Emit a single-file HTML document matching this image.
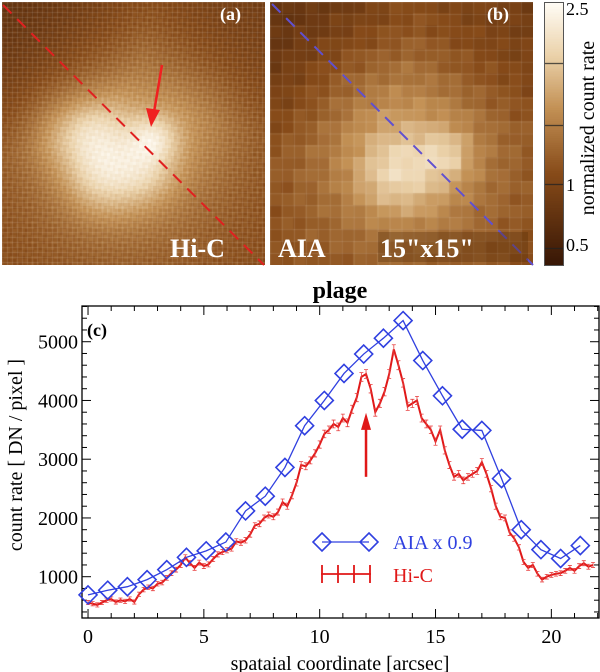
<!DOCTYPE html>
<html><head><meta charset="utf-8">
<style>
html,body{margin:0;padding:0;background:#fff;}
body{width:600px;height:672px;position:relative;overflow:hidden;font-family:"Liberation Serif","DejaVu Serif","Times New Roman",serif;}
canvas{position:absolute;}
svg text{font-family:"Liberation Serif","DejaVu Serif","Times New Roman",serif;}
</style></head><body>
<canvas id="imga" width="263" height="263" style="left:2px;top:2px"></canvas>
<canvas id="imgb" width="263" height="263" style="left:270px;top:2px"></canvas>
<canvas id="cbar" width="18" height="262" style="left:545px;top:3px;outline:1px solid #555"></canvas>
<svg width="600" height="672" style="position:absolute;left:0;top:0" id="svg">
<line x1="3" y1="5" x2="264" y2="265" stroke="#e02020" stroke-width="2" stroke-dasharray="12,8"/>
<line x1="272" y1="4" x2="533" y2="265" stroke="#6050d0" stroke-width="2" stroke-dasharray="12,8"/>
<g>
<line x1="162" y1="65" x2="154" y2="112" stroke="#f02020" stroke-width="2.5"/>
<polygon points="151,127 146,108 160,110" fill="#f02020"/>
</g>
<text x="220" y="20" fill="#fff" font-weight="bold" font-size="18">(a)</text>
<text x="487" y="20" fill="#fff" font-weight="bold" font-size="18">(b)</text>
<text x="170" y="257" fill="#fff" font-weight="bold" font-size="26">Hi-C</text>
<text x="278" y="257" fill="#fff" font-weight="bold" font-size="26">AIA</text>
<rect x="378" y="232" width="150" height="30" fill="rgba(90,45,10,0.35)"/>
<text x="380" y="257" fill="#fff" font-weight="bold" font-size="26">15"x15"</text>
<g font-size="18" fill="#000">
<text x="566" y="15">2.5</text>
<text x="566" y="191">1</text>
<text x="566" y="251">0.5</text>
<text transform="translate(594,128) rotate(-90)" text-anchor="middle" font-size="20">normalized count rate</text>
</g>
<text x="340" y="298" text-anchor="middle" font-weight="bold" font-size="24">plage</text>
<g id="chart"></g>
</svg>
<script>
// ---- chart data ----
const aiaX=[0,0.85,1.7,2.55,3.4,4.25,5.1,5.95,6.8,7.65,8.5,9.35,10.2,11.05,11.9,12.75,13.6,14.45,15.3,16.15,17.0,17.85,18.7,19.55,20.4,21.25];
const aiaY=[690,770,830,950,1120,1330,1440,1590,2120,2370,2860,3570,4000,4460,4790,5060,5360,4680,4080,3510,3490,2670,1800,1460,1310,1530];
const hicX=[0,0.2,0.4,0.6,0.8,1,1.2,1.4,1.6,1.8,2,2.2,2.4,2.6,2.8,3,3.2,3.4,3.6,3.8,4,4.2,4.4,4.6,4.8,5,5.2,5.4,5.6,5.8,6,6.2,6.4,6.6,6.8,7,7.2,7.4,7.6,7.8,8,8.2,8.4,8.6,8.8,9,9.2,9.4,9.6,9.8,10,10.2,10.4,10.6,10.8,11,11.2,11.4,11.6,11.8,12,12.2,12.4,12.6,12.8,13,13.2,13.4,13.6,13.8,14,14.2,14.4,14.6,14.8,15,15.2,15.4,15.6,15.8,16,16.2,16.4,16.6,16.8,17,17.2,17.4,17.6,17.8,18,18.2,18.4,18.6,18.8,19,19.2,19.4,19.6,19.8,20,20.2,20.4,20.6,20.8,21,21.2,21.4,21.6,21.8];
const hicY=[560,540,520,560,600,620,570,600,580,620,570,700,780,820,800,880,900,980,1060,1120,1200,1330,1230,1150,1240,1180,1210,1300,1380,1420,1450,1480,1600,1580,1620,1720,1870,1900,2000,2050,2020,2100,2270,2200,2380,2600,2900,2880,2980,3100,3250,3430,3500,3600,3550,3700,3620,3850,4050,4400,4450,4200,3800,3950,4150,4450,4870,4600,4300,3900,3950,4000,3700,3600,3500,3300,3500,3150,2900,2700,2750,2640,2700,2750,2800,2950,2750,2500,2200,2020,2000,1750,1650,1500,1250,1150,1200,1050,950,1000,1030,1050,1060,1100,1150,1100,1180,1230,1170,1200];
const xTicks=[0,5,10,15,20];
const yTicks=[1000,2000,3000,4000,5000];

const L=82,R=600,T=306,B=618, X0=-0.26,X1=22.1,Y0=297,Y1=5608;
const sx=v=>L+(v-X0)/(X1-X0)*(R-L);
const sy=v=>B-(v-Y0)/(Y1-Y0)*(B-T);
const NS='http://www.w3.org/2000/svg';
const FF='font-family:"Liberation Serif","DejaVu Serif",serif';
const g=document.getElementById('chart');
function mk(tag,at,parent){const e=document.createElementNS(NS,tag);for(const k in at)e.setAttribute(k,at[k]);if(tag==='text')e.setAttribute('style',FF);(parent||g).appendChild(e);return e;}

const frame=mk('rect',{x:L,y:T,width:R-L-1,height:B-T,fill:'none',stroke:'#000','stroke-width':1.3});


for(let v=0;v<=22;v+=1){const x=sx(v);const big=v%5===0;
 mk('line',{x1:x,y1:B,x2:x,y2:B-(big?9:5),stroke:'#000'});mk('line',{x1:x,y1:T,x2:x,y2:T+(big?9:5),stroke:'#000'});}
for(let v=400;v<=5600;v+=200){const y=sy(v);const big=v%1000===0;
 mk('line',{x1:L,y1:y,x2:L+(big?9:5),y2:y,stroke:'#000'});mk('line',{x1:R-1,y1:y,x2:R-1-(big?9:5),y2:y,stroke:'#000'});}
xTicks.forEach(v=>{const t=mk('text',{x:sx(v),y:643,'text-anchor':'middle','font-size':20});t.textContent=v;
 
 });
yTicks.forEach(v=>{const t=mk('text',{x:L-4,y:sy(v)+7,'text-anchor':'end','font-size':20});t.textContent=v;
 
 });
const xt=mk('text',{x:340,y:670,'text-anchor':'middle','font-size':20});xt.textContent='spataial coordinate  [arcsec]';


const yt=mk('text',{transform:'translate(22,455) rotate(-90)','text-anchor':'middle','font-size':20});yt.textContent='count rate  [ DN / pixel ]';


const pl=mk('text',{x:87,y:336,'font-size':18,'font-weight':'bold'});pl.textContent='(c)';



const hp=mk('polyline',{points:hicX.map((x,i)=>sx(x)+','+sy(hicY[i])).join(' '),fill:'none',stroke:'#e01818','stroke-width':2});


hicX.forEach((x,i)=>{const e=30+hicY[i]*0.01;const X=sx(x);
 const eb=mk('path',{d:`M${X},${sy(hicY[i]-e)}V${sy(hicY[i]+e)}M${X-2},${sy(hicY[i]+e)}h4M${X-2},${sy(hicY[i]-e)}h4`,stroke:'#e84040','stroke-width':0.8});
 
 });
const ap=mk('polyline',{points:aiaX.map((x,i)=>sx(x)+','+sy(aiaY[i])).join(' '),fill:'none',stroke:'#3040e0','stroke-width':1.3});


function diamond(cx,cy){return `${cx},${cy-9} ${cx+9},${cy} ${cx},${cy+9} ${cx-9},${cy}`;}
aiaX.forEach((x,i)=>{const d=mk('polygon',{points:diamond(sx(x),sy(aiaY[i])),fill:'none',stroke:'#3040e0','stroke-width':1.6});
 
 });
const ar=mk('g',{});


mk('line',{x1:sx(12),y1:sy(2700),x2:sx(12),y2:sy(3550),stroke:'#e01818','stroke-width':2.5},ar);
mk('polygon',{points:`${sx(12)},${sy(3790)} ${sx(12)-5},${sy(3500)} ${sx(12)+5},${sy(3500)}`,fill:'#e01818'},ar);
const lg=mk('g',{});


mk('line',{x1:322,y1:542,x2:369,y2:542,stroke:'#3040e0','stroke-width':1.3},lg);
mk('polygon',{points:diamond(322,542),fill:'none',stroke:'#3040e0','stroke-width':1.6},lg);
mk('polygon',{points:diamond(369,542),fill:'none',stroke:'#3040e0','stroke-width':1.6},lg);
const t1=mk('text',{x:393,y:549,fill:'#3040e0','font-size':20},lg);t1.textContent='AIA x 0.9';
mk('path',{d:'M321,574H371M322,565V583M338,565V583M354,565V583M370,565V583',stroke:'#e01818','stroke-width':1.8},lg);
const t2=mk('text',{x:393,y:582,fill:'#e01818','font-size':20},lg);t2.textContent='Hi-C';

// ---- images ----
function cmap(v){v=Math.max(0,Math.min(1,v));
 const st=[[0,[55,22,5]],[0.35,[135,75,25]],[0.6,[195,145,85]],[0.8,[235,210,170]],[1,[255,252,245]]];
 for(let i=1;i<st.length;i++)if(v<=st[i][0]){const a=st[i-1],b=st[i],f=(v-a[0])/(b[0]-a[0]);return a[1].map((c,j)=>Math.round(c+(b[1][j]-c)*f));}
 return st[4][1];}
const blobsA=[[0.48,0.55,0.40,0.26],[0.35,0.5,0.14,0.18],[0.38,0.68,0.14,0.18],[0.58,0.52,0.09,0.22],[0.55,0.65,0.12,0.14],[0.46,0.6,0.2,0.1],[0.22,0.5,0.15,0.1],[0.75,0.45,0.18,0.06]];
const blobsB=[[0.52,0.6,0.40,0.26],[0.55,0.62,0.18,0.16],[0.68,0.58,0.09,0.16],[0.45,0.66,0.14,0.12],[0.3,0.28,0.2,0.05]];
function field(bl,u,v){let s=0.34;bl.forEach(b=>{const d=((u-b[0])**2+(v-b[1])**2)/(b[2]*b[2]);s+=b[3]*Math.exp(-d);});
 s-=0.15*Math.max(0,1-((u)**2+(v)**2)*3);s-=0.08*Math.max(0,1-((1-u)**2+(v)**2)*4);return s;}
function draw(id,bl,n,noise){const c=document.getElementById(id).getContext('2d');const W=263,cs=W/n;
 for(let i=0;i<n;i++)for(let j=0;j<n;j++){const u=(i+0.5)/n,v=(j+0.5)/n;let f=field(bl,u,v)+noise*Math.sin(i*1.7+j*2.3)*Math.cos(i*0.9-j*1.3);
 const col=cmap(f);c.fillStyle=`rgb(${col})`;c.fillRect(Math.floor(i*cs),Math.floor(j*cs),Math.ceil(cs)+1,Math.ceil(cs)+1);}
 c.strokeStyle='rgba(255,255,255,0.12)';c.lineWidth=1;const step=id==='imga'?5:W/22;
 for(let p=0;p<W;p+=step){c.beginPath();c.moveTo(p+0.5,0);c.lineTo(p+0.5,W);c.stroke();c.beginPath();c.moveTo(0,p+0.5);c.lineTo(W,p+0.5);c.stroke();}}
draw('imga',blobsA,90,0.035);
draw('imgb',blobsB,22,0.04);
const cb=document.getElementById('cbar').getContext('2d');
for(let y=0;y<262;y++){const col=cmap(1-y/262);cb.fillStyle=`rgb(${col})`;cb.fillRect(0,y,18,1);}
cb.fillStyle='#222';[60,122,181,245].forEach(y=>cb.fillRect(0,y,18,1));
</script>
</body></html>
